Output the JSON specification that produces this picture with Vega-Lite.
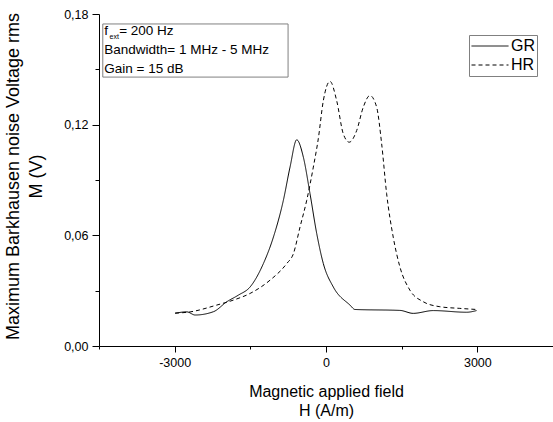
{
  "$schema": "https://vega.github.io/schema/vega-lite/v6.json",
  "width": 454,
  "height": 332,
  "autosize": "none",
  "padding": {"left": 99, "top": 14, "right": 0, "bottom": 76},
  "background": "white",
  "config": {
    "view": {"stroke": null},
    "font": "Liberation Sans",
    "axis": {
      "domainColor": "black",
      "tickColor": "black",
      "labelColor": "black",
      "titleColor": "black",
      "labelFont": "Liberation Sans",
      "titleFont": "Liberation Sans",
      "labelFontSize": 12.5,
      "titleFontSize": 16,
      "titleFontWeight": "normal",
      "grid": false
    }
  },
  "datasets": {
    "curves": [
      {"H": -2990, "M": 0.0178, "series": "GR"},
      {"H": -2758, "M": 0.0185, "series": "GR"},
      {"H": -2594, "M": 0.0168, "series": "GR"},
      {"H": -2231, "M": 0.0186, "series": "GR"},
      {"H": -1966, "M": 0.0240, "series": "GR"},
      {"H": -1736, "M": 0.0276, "series": "GR"},
      {"H": -1505, "M": 0.0320, "series": "GR"},
      {"H": -1241, "M": 0.0447, "series": "GR"},
      {"H": -1043, "M": 0.0590, "series": "GR"},
      {"H": -845, "M": 0.0790, "series": "GR"},
      {"H": -713, "M": 0.0970, "series": "GR"},
      {"H": -580, "M": 0.1118, "series": "GR"},
      {"H": -449, "M": 0.1024, "series": "GR"},
      {"H": -317, "M": 0.0826, "series": "GR"},
      {"H": -184, "M": 0.0610, "series": "GR"},
      {"H": -53, "M": 0.0447, "series": "GR"},
      {"H": 145, "M": 0.0320, "series": "GR"},
      {"H": 475, "M": 0.0222, "series": "GR"},
      {"H": 574, "M": 0.0198, "series": "GR"},
      {"H": 1465, "M": 0.0193, "series": "GR"},
      {"H": 1729, "M": 0.0177, "series": "GR"},
      {"H": 2125, "M": 0.0192, "series": "GR"},
      {"H": 2786, "M": 0.0183, "series": "GR"},
      {"H": 2984, "M": 0.0192, "series": "GR"},
      {"H": -2990, "M": 0.0178, "series": "HR"},
      {"H": -2693, "M": 0.0185, "series": "HR"},
      {"H": -2164, "M": 0.0222, "series": "HR"},
      {"H": -1835, "M": 0.0249, "series": "HR"},
      {"H": -1505, "M": 0.0285, "series": "HR"},
      {"H": -1109, "M": 0.0357, "series": "HR"},
      {"H": -778, "M": 0.0447, "series": "HR"},
      {"H": -647, "M": 0.0500, "series": "HR"},
      {"H": -515, "M": 0.0645, "series": "HR"},
      {"H": -382, "M": 0.0790, "series": "HR"},
      {"H": -251, "M": 0.0970, "series": "HR"},
      {"H": -152, "M": 0.1125, "series": "HR"},
      {"H": -53, "M": 0.1330, "series": "HR"},
      {"H": 79, "M": 0.1435, "series": "HR"},
      {"H": 212, "M": 0.1330, "series": "HR"},
      {"H": 343, "M": 0.1150, "series": "HR"},
      {"H": 461, "M": 0.1105, "series": "HR"},
      {"H": 608, "M": 0.1168, "series": "HR"},
      {"H": 739, "M": 0.1295, "series": "HR"},
      {"H": 871, "M": 0.1358, "series": "HR"},
      {"H": 1004, "M": 0.1295, "series": "HR"},
      {"H": 1103, "M": 0.1097, "series": "HR"},
      {"H": 1202, "M": 0.0826, "series": "HR"},
      {"H": 1333, "M": 0.0590, "series": "HR"},
      {"H": 1465, "M": 0.0429, "series": "HR"},
      {"H": 1663, "M": 0.0303, "series": "HR"},
      {"H": 1927, "M": 0.0240, "series": "HR"},
      {"H": 2257, "M": 0.0213, "series": "HR"},
      {"H": 2653, "M": 0.0204, "series": "HR"},
      {"H": 2984, "M": 0.0198, "series": "HR"}
    ],
    "box": [{"x1": -4425, "x2": -752, "y1": 0.1746, "y2": 0.1458}],
    "notes": [
      {"tx": -4396, "ty": 0.1708, "label": "f"},
      {"tx": -4100, "ty": 0.1708, "label": "= 200 Hz"},
      {"tx": -4396, "ty": 0.1605, "label": "Bandwidth= 1 MHz - 5 MHz"},
      {"tx": -4396, "ty": 0.1502, "label": "Gain = 15 dB"}
    ],
    "subs": [{"tx": -4290, "ty": 0.1678, "label": "ext"}]
  },
  "layer": [
    {
      "data": {"name": "box"},
      "mark": {"type": "rect", "fill": "white", "stroke": "#808080", "strokeWidth": 1},
      "encoding": {
        "x": {"field": "x1", "type": "quantitative", "scale": {"domain": [-4500, 4500], "nice": false, "zero": false}},
        "x2": {"field": "x2"},
        "y": {"field": "y1", "type": "quantitative", "scale": {"domain": [0, 0.18], "nice": false, "zero": false}},
        "y2": {"field": "y2"}
      }
    },
    {
      "data": {"name": "curves"},
      "mark": {"type": "line", "color": "black", "strokeWidth": 1, "interpolate": "monotone"},
      "encoding": {
        "x": {
          "field": "H", "type": "quantitative",
          "scale": {"domain": [-4500, 4500], "nice": false, "zero": false},
          "axis": {
            "values": [-4500, -3000, -1500, 0, 1500, 3000, 4500],
            "labelExpr": "datum.value % 3000 == 0 ? '' + datum.value : ''",
            "tickSize": {"condition": {"test": "datum.value % 3000 == 0", "value": 6}, "value": 3},
            "labelPadding": 4,
            "labelFlush": false,
            "labelOverlap": false,
            "title": ["Magnetic applied field", "H (A/m)"],
            "titleLineHeight": 19,
            "titlePadding": 15
          }
        },
        "y": {
          "field": "M", "type": "quantitative",
          "scale": {"domain": [0, 0.18], "nice": false, "zero": false},
          "axis": {
            "values": [0, 0.03, 0.06, 0.09, 0.12, 0.15, 0.18],
            "labelExpr": "round(datum.value * 100) % 6 == 0 ? replace(format(datum.value, '.2f'), '.', ',') : ''",
            "tickSize": {"condition": {"test": "round(datum.value * 100) % 6 == 0", "value": 7}, "value": 4},
            "labelPadding": 4,
            "labelFlush": false,
            "labelOverlap": false,
            "title": ["Maximum Barkhausen noise Voltage rms", "M (V)"],
            "titleFontSize": 18,
            "titleLineHeight": 23,
            "titlePadding": 18,
            "titleY": 162
          }
        },
        "strokeDash": {
          "field": "series", "type": "nominal",
          "scale": {"domain": ["GR", "HR"], "range": [[1, 0], [4, 3]]},
          "legend": {
            "title": null,
            "orient": "none",
            "legendX": 370,
            "legendY": 21,
            "strokeColor": "#808080",
            "padding": 2,
            "symbolType": "stroke",
            "symbolSize": 1369,
            "symbolStrokeWidth": 1,
            "symbolStrokeColor": "black",
            "labelFontSize": 16,
            "labelFont": "Liberation Sans",
            "labelColor": "black",
            "labelOffset": 2,
            "clipHeight": 18,
            "rowPadding": 1
          }
        }
      }
    },
    {
      "data": {"name": "notes"},
      "mark": {"type": "text", "align": "left", "baseline": "middle", "fontSize": 13.5, "font": "Liberation Sans", "color": "black"},
      "encoding": {
        "x": {"field": "tx", "type": "quantitative"},
        "y": {"field": "ty", "type": "quantitative"},
        "text": {"field": "label"}
      }
    },
    {
      "data": {"name": "subs"},
      "mark": {"type": "text", "align": "left", "baseline": "middle", "fontSize": 7, "font": "Liberation Sans", "color": "black"},
      "encoding": {
        "x": {"field": "tx", "type": "quantitative"},
        "y": {"field": "ty", "type": "quantitative"},
        "text": {"field": "label"}
      }
    }
  ]
}
